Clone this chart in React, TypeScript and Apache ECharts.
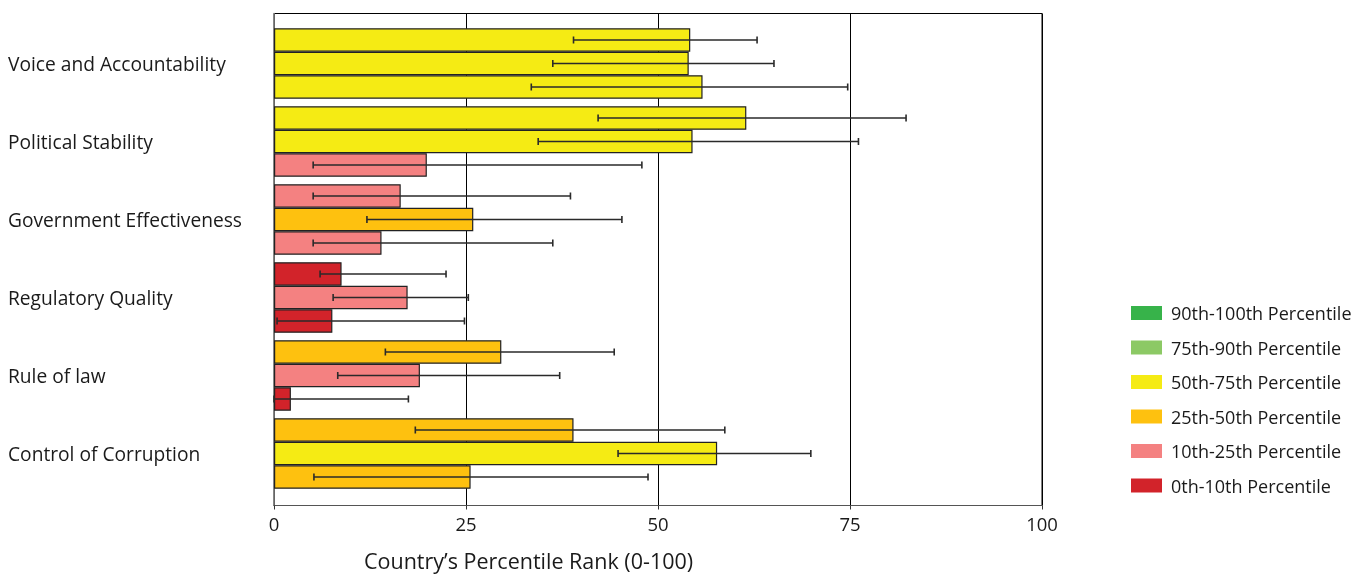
import React, { useEffect, useRef } from "react";
import * as echarts from "echarts";

const categories = [
  "Voice and Accountability",
  "Political Stability",
  "Government Effectiveness",
  "Regulatory Quality",
  "Rule of law",
  "Control of Corruption",
];

// three bars per indicator (top, middle, bottom)
const barTop = [54.2, 61.5, 16.5, 8.8, 29.6, 39.0];
const barMid = [54.0, 54.5, 25.95, 17.4, 19.0, 57.7];
const barBot = [55.8, 19.9, 14.0, 7.6, 2.2, 25.6];

const lowTop = [39.0, 42.2, 5.1, 6.0, 14.5, 18.4];
const highTop = [62.9, 82.3, 38.6, 22.4, 44.3, 58.7];
const lowMid = [36.3, 34.4, 12.1, 7.7, 8.3, 44.8];
const highMid = [65.1, 76.1, 45.3, 25.3, 37.2, 69.9];
const lowBot = [33.5, 5.1, 5.1, 0.4, 0.0, 5.2];
const highBot = [74.7, 47.9, 36.3, 24.8, 17.5, 48.7];

const xTicks = [0, 25, 50, 75, 100];

const legendNames = [
  "90th-100th Percentile",
  "75th-90th Percentile",
  "50th-75th Percentile",
  "25th-50th Percentile",
  "10th-25th Percentile",
  "0th-10th Percentile",
];
const legendColors = ["#37b34a", "#8cc965", "#f5eb14", "#fec10f", "#f48181", "#d2232a"];
const classLower = [90, 75, 50, 25, 10, 0];

const axisTitle = "Country\u2019s Percentile Rank (0-100)";

const FONT = "'Open Sans', 'Noto Sans', sans-serif";
const BW = 23.5;

function colorFor(v: number) {
  for (let i = 0; i < classLower.length; i++) {
    if (v >= classLower[i]) return legendColors[i];
  }
  return legendColors[legendColors.length - 1];
}

export default function App() {
  const ref = useRef<HTMLDivElement>(null);

  useEffect(() => {
    if (!ref.current) return;
    const chart = echarts.init(ref.current, undefined, { renderer: "svg" });

    const barSeries = [barTop, barMid, barBot].map((arr, k) => ({
      type: "bar",
      name: "bar" + k,
      xAxisIndex: 1,
      yAxisIndex: 1,
      barWidth: BW,
      barGap: "0%",
      data: arr.map((v) => ({
        value: v,
        itemStyle: { color: colorFor(v), borderColor: "#222", borderWidth: 1.2 },
      })),
      z: 3,
    }));

    const errData: number[][] = [];
    [
      [lowTop, highTop],
      [lowMid, highMid],
      [lowBot, highBot],
    ].forEach(([lo, hi], k) => {
      categories.forEach((_, i) => errData.push([i, lo[i], hi[i], k]));
    });

    const errSeries = {
      type: "custom",
      xAxisIndex: 1,
      yAxisIndex: 1,
      encode: { x: [1, 2], y: 0 },
      data: errData,
      z: 10,
      renderItem: (params: any, api: any) => {
        const cat = api.value(0);
        const lo = api.value(1);
        const hi = api.value(2);
        const k = api.value(3);
        const p1 = api.coord([lo, cat]);
        const p2 = api.coord([hi, cat]);
        const y = p1[1] + (k - 1) * BW;
        const st = { stroke: "#2a2a2a", lineWidth: 1.6 };
        return {
          type: "group",
          children: [
            { type: "line", shape: { x1: p1[0], y1: y, x2: p2[0], y2: y }, style: st },
            { type: "line", shape: { x1: p1[0], y1: y - 3.5, x2: p1[0], y2: y + 3.5 }, style: st },
            { type: "line", shape: { x1: p2[0], y1: y - 3.5, x2: p2[0], y2: y + 3.5 }, style: st },
          ],
        };
      },
    };

    const legendSeries = legendNames.map((n, i) => ({
      type: "scatter",
      name: n,
      xAxisIndex: 0,
      yAxisIndex: 0,
      data: [],
      itemStyle: { color: legendColors[i], opacity: 1 },
    }));

    chart.setOption({
      animation: false,
      grid: [
        {
          left: 274,
          right: 326,
          top: 13.5,
          bottom: 68.5,
          show: true,
          borderColor: "#000",
          borderWidth: 1,
        },
        { left: 274, right: 326, top: 24.5, bottom: 81.5 },
      ],
      xAxis: [
        {
          type: "value",
          gridIndex: 0,
          min: 0,
          max: 100,
          interval: 25,
          axisLine: { show: true, lineStyle: { color: "#555", width: 1.2 } },
          axisTick: { show: true, length: 4, lineStyle: { color: "#333" } },
          splitLine: { show: true, lineStyle: { color: "#000", width: 1 } },
          axisLabel: {
            fontFamily: FONT,
            fontSize: 18.5,
            color: "#1a1a1a",
            margin: 8,
            formatter: (v: number) => (xTicks.includes(v) ? String(v) : ""),
          },
        },
        {
          type: "value",
          gridIndex: 1,
          min: 0,
          max: 100,
          show: false,
        },
      ],
      yAxis: [
        {
          type: "value",
          gridIndex: 0,
          min: 0,
          max: 1,
          axisLine: { show: true, lineStyle: { color: "#888", width: 1.5 } },
          axisTick: { show: false },
          axisLabel: { show: false },
          splitLine: { show: false },
        },
        {
          type: "category",
          gridIndex: 1,
          inverse: true,
          data: categories,
          axisLine: { show: false },
          axisTick: { show: false },
          axisLabel: {
            align: "left",
            margin: 266,
            fontFamily: FONT,
            fontSize: 19.2,
            color: "#1a1a1a",
          },
        },
      ],
      legend: {
        data: legendNames,
        orient: "vertical",
        left: 1126,
        top: 298,
        itemWidth: 31,
        itemHeight: 14,
        itemGap: 14.5,
        icon: "rect",
        selectedMode: false,
        textStyle: {
          fontFamily: FONT,
          fontSize: 18,
          color: "#1a1a1a",
          lineHeight: 20,
          padding: [0, 0, 0, 4],
        },
      },
      graphic: [
        {
          type: "text",
          left: 364,
          top: 549,
          style: {
            text: axisTitle,
            fontFamily: FONT,
            fontSize: 21.5,
            fill: "#1a1a1a",
          },
        },
      ],
      series: [...barSeries, errSeries, ...legendSeries],
    });

    return () => chart.dispose();
  }, []);

  return (
    <div
      ref={ref}
      style={{ position: "fixed", left: 0, top: 0, width: "1368px", height: "574px" }}
    />
  );
}
